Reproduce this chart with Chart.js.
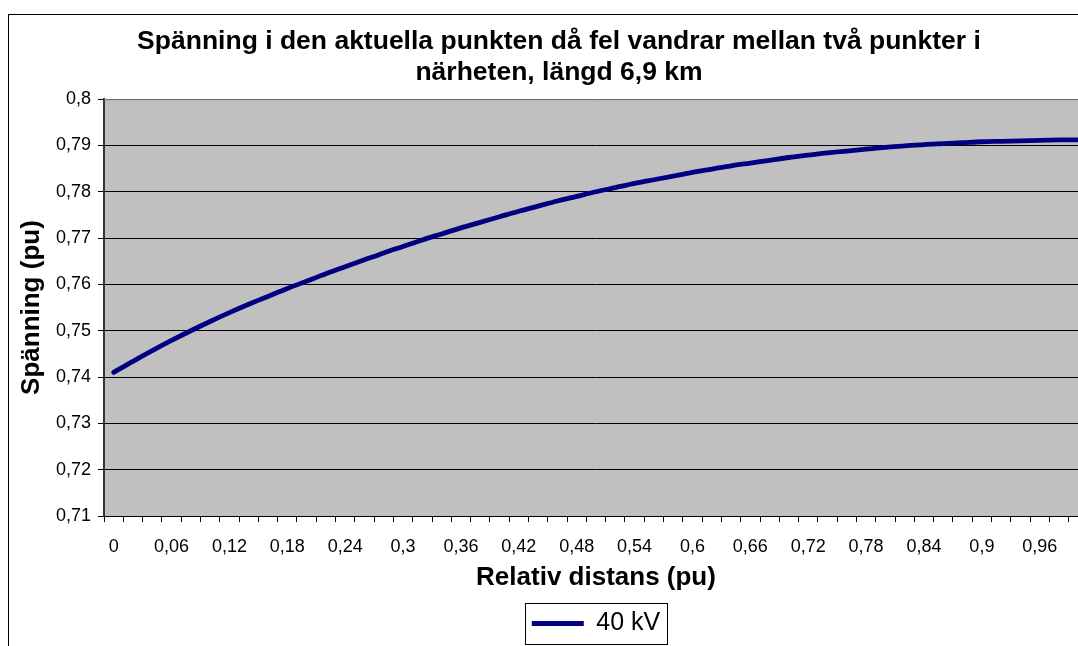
<!DOCTYPE html>
<html>
<head>
<meta charset="utf-8">
<script src="https://cdn.jsdelivr.net/npm/chart.js@4.4.1/dist/chart.umd.min.js"></script>
<style>
  html, body { margin: 0; padding: 0; background: #fff; overflow: hidden; width: 1078px; height: 646px; }
  .frame { position: absolute; left: 8px; top: 14px; width: 1100px; height: 660px; border: 1px solid #000; background: #fff; }
</style>
</head>
<body>
<div class="frame">
  <canvas id="chart" width="1100" height="660"></canvas>
</div>
<script>
// relative distance (pu), one category per 0.02
const distans = [
  '0', '0,02', '0,04', '0,06', '0,08', '0,1', '0,12', '0,14', '0,16', '0,18',
  '0,2', '0,22', '0,24', '0,26', '0,28', '0,3', '0,32', '0,34', '0,36', '0,38',
  '0,4', '0,42', '0,44', '0,46', '0,48', '0,5', '0,52', '0,54', '0,56', '0,58',
  '0,6', '0,62', '0,64', '0,66', '0,68', '0,7', '0,72', '0,74', '0,76', '0,78',
  '0,8', '0,82', '0,84', '0,86', '0,88', '0,9', '0,92', '0,94', '0,96', '0,98', '1'
];

// voltage (pu) for the 40 kV line
const spanning40kV = [
  0.7410, 0.7434, 0.7457, 0.7479, 0.7500, 0.7520, 0.7539, 0.7557, 0.7574, 0.7591,
  0.7607, 0.7623, 0.7638, 0.7653, 0.7668, 0.7682, 0.7696, 0.7709, 0.7722, 0.7734,
  0.7746, 0.7758, 0.7769, 0.7780, 0.7790, 0.7800, 0.7809, 0.7818, 0.7826, 0.7834,
  0.7842, 0.7849, 0.7856, 0.7862, 0.7868, 0.7874, 0.7879, 0.7884, 0.7888, 0.7892,
  0.7896, 0.7899, 0.7902, 0.7904, 0.7906, 0.7908, 0.7909, 0.7910, 0.7911, 0.7912, 0.7912
];

const titleLines = ['Spänning i den aktuella punkten då fel vandrar mellan två punkter i', 'närheten, längd 6,9 km'];
const yMin = 0.71;
const yMax = 0.8;
const yStep = 0.01;

const FONT = "'Liberation Sans', Arial, sans-serif";

const plotBackground = {
  id: 'plotBackground',
  beforeDraw(chart) {
    const { ctx, chartArea: a } = chart;
    ctx.save();
    ctx.fillStyle = '#c0c0c0';
    ctx.fillRect(a.left, a.top, a.right - a.left, a.bottom - a.top);
    ctx.restore();
  },
  afterDraw(chart) {
    const { ctx, chartArea: a } = chart;
    ctx.save();
    ctx.strokeStyle = '#808080';
    ctx.lineWidth = 1;
    ctx.beginPath();
    ctx.moveTo(a.left, a.top + 0.5);
    ctx.lineTo(a.right, a.top + 0.5);
    ctx.moveTo(a.right - 0.5, a.top);
    ctx.lineTo(a.right - 0.5, a.bottom);
    ctx.stroke();
    // border around the legend entry
    const hb = chart.legend && chart.legend.legendHitBoxes[0];
    if (hb) {
      ctx.strokeStyle = '#000';
      ctx.strokeRect(Math.round(hb.left - 7) + 0.5, Math.round(hb.top - 8) + 0.5, Math.round(hb.width + 14), Math.round(hb.height + 16));
    }
    ctx.restore();
  }
};

new Chart(document.getElementById('chart'), {
  type: 'line',
  data: {
    labels: distans,
    datasets: [{
      label: '40 kV',
      data: spanning40kV,
      borderColor: '#000080',
      backgroundColor: '#000080',
      borderWidth: 4.8,
      borderCapStyle: 'round',
      pointRadius: 0,
      pointStyle: 'line',
      tension: 0.4,
      cubicInterpolationMode: 'monotone'
    }]
  },
  options: {
    responsive: false,
    animation: false,
    layout: { padding: { left: 0, right: 0, top: 11, bottom: 29 } },
    plugins: {
      title: {
        display: true,
        text: titleLines,
        color: '#000',
        font: { family: FONT, size: 26.5, weight: 'bold', lineHeight: 1.18 },
        padding: { top: 0, bottom: 10.6 }
      },
      legend: {
        position: 'bottom',
        fullSize: false,
        labels: {
          usePointStyle: true,
          pointStyleWidth: 52,
          color: '#000',
          font: { family: FONT, size: 25 },
          padding: 10
        }
      },
      tooltip: { enabled: false }
    },
    scales: {
      x: {
        offset: true,
        afterFit(scale) { scale.height = 85; },
        grid: { display: true, drawOnChartArea: false, drawTicks: true, tickLength: 6, offset: true, color: '#000' },
        border: { display: true, color: '#000', width: 1 },
        ticks: {
          autoSkip: false,
          maxRotation: 0,
          minRotation: 0,
          padding: 14,
          color: '#000',
          font: { family: FONT, size: 18 },
          callback: (v, i) => (i % 3 === 0 ? distans[i] : '')
        },
        title: {
          display: true,
          text: 'Relativ distans (pu)',
          color: '#000',
          font: { family: FONT, size: 26, weight: 'bold', lineHeight: 1.2 },
          padding: { top: 0, bottom: 7.4 }
        }
      },
      y: {
        min: yMin,
        max: yMax,
        afterFit(scale) { scale.width = 95; },
        grid: { display: true, drawTicks: true, tickLength: 6, color: '#000', lineWidth: 1 },
        border: { display: true, color: '#333', width: 2 },
        ticks: {
          stepSize: yStep,
          padding: 7,
          color: '#000',
          font: { family: FONT, size: 18 },
          callback: (v) => String(Math.round(v * 100) / 100).replace('.', ',')
        },
        title: {
          display: true,
          text: 'Spänning (pu)',
          color: '#000',
          font: { family: FONT, size: 26, weight: 'bold', lineHeight: 1.2 },
          padding: { top: 7.4, bottom: 0 }
        }
      },
      // empty spacer on the right so the plot stops short of the frame edge
      spacer: {
        type: 'linear',
        position: 'right',
        min: yMin,
        max: yMax,
        afterFit(scale) { scale.width = 21; },
        grid: { display: false },
        border: { display: false },
        ticks: { display: false }
      }
    }
  },
  plugins: [plotBackground]
});
</script>
</body>
</html>
